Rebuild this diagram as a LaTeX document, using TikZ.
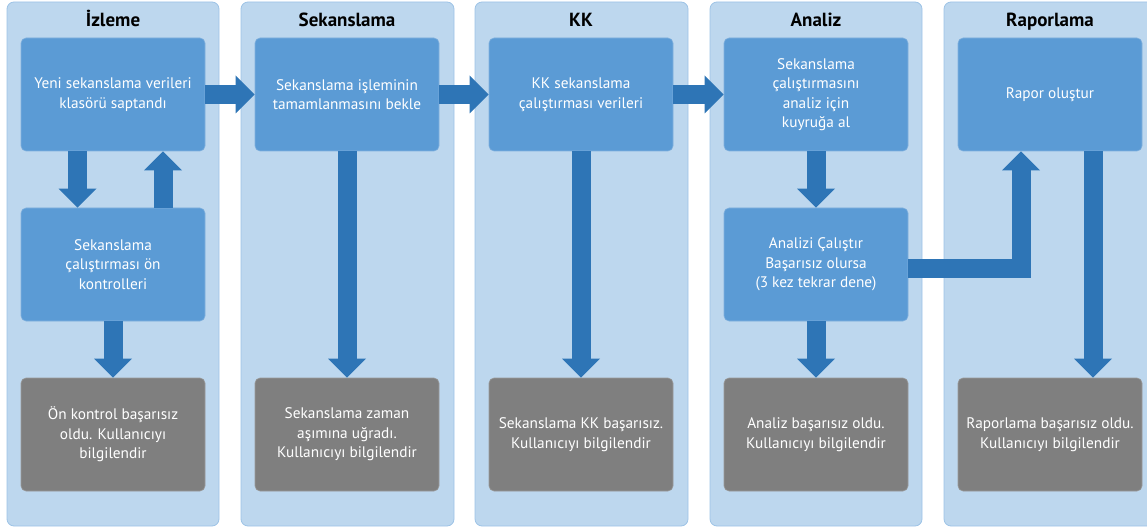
\documentclass[tikz,border=0pt]{standalone}
\usepackage{fontspec}
\setmainfont{PT Sans}
\usetikzlibrary{arrows.meta}
\definecolor{lanebg}{HTML}{BDD7EE}
\definecolor{laneline}{HTML}{9DC3E6}
\definecolor{boxblue}{HTML}{5B9BD5}
\definecolor{boxline}{HTML}{80B0DE}
\definecolor{arrowblue}{HTML}{2E75B6}
\definecolor{failgray}{HTML}{7F7F7F}
\definecolor{failline}{HTML}{9A9A9A}
\begin{document}
\begin{tikzpicture}[x=1pt,y=-1pt,
    lane/.style={fill=lanebg,draw=laneline,line width=0.8pt,rounded corners=7pt},
    head/.style={anchor=base,font=\bfseries\fontsize{19}{22}\selectfont},
    stepbox/.style={draw=boxline,fill=boxblue,line width=0.6pt,rounded corners=5pt,
        minimum width=184pt,minimum height=113pt,inner sep=0pt,align=center,
        text=white,font=\fontsize{15.3}{19.5}\selectfont},
    failbox/.style={stepbox,fill=failgray,draw=failline},
    bigarrow/.style={draw=arrowblue,line width=19pt,
        -{Triangle[length=19pt,width=38pt,line width=0pt]}}]
    \useasboundingbox (0,0) rectangle (1147,529);
    \draw[lane] (7,2) rectangle (219,526);
    \draw[lane] (241,2) rectangle (454,526);
    \draw[lane] (475,2) rectangle (688,526);
    \draw[lane] (710,2) rectangle (922,526);
    \draw[lane] (944,2) rectangle (1158,526);
    \node[head] at (113,27) {İzleme};
    \node[head] at (347,27) {Sekanslama};
    \node[head] at (581,27) {KK};
    \node[head] at (816,27) {Analiz};
    \node[head] at (1050,27) {Raporlama};
    \node[stepbox] (izl1) at (113,94.5) {Yeni sekanslama verileri\\klasörü saptandı};
    \node[stepbox] (izl2) at (113,264.5) {Sekanslama\\çalıştırması ön\\kontrolleri};
    \node[failbox] (izl3) at (113,434.5) {Ön kontrol başarısız\\oldu. Kullanıcıyı\\bilgilendir};
    \node[stepbox] (sek1) at (347,94.5) {Sekanslama işleminin\\tamamlanmasını bekle};
    \node[failbox] (sek3) at (347,434.5) {Sekanslama zaman\\aşımına uğradı.\\Kullanıcıyı bilgilendir};
    \node[stepbox] (kk1) at (581,94.5) {KK sekanslama\\çalıştırması verileri};
    \node[failbox] (kk3) at (581,434.5) {Sekanslama KK başarısız.\\Kullanıcıyı bilgilendir};
    \node[stepbox] (ana1) at (816,94.5) {Sekanslama\\çalıştırmasını\\analiz için\\kuyruğa al};
    \node[stepbox] (ana2) at (816,264.5) {Analizi Çalıştır\\Başarısız olursa\\(3 kez tekrar dene)};
    \node[failbox] (ana3) at (816,434.5) {Analiz başarısız oldu.\\Kullanıcıyı bilgilendir};
    \node[stepbox] (rap1) at (1050,94.5) {Rapor oluştur};
    \node[failbox] (rap3) at (1050,434.5) {Raporlama başarısız oldu.\\Kullanıcıyı bilgilendir};
    \draw[bigarrow] (izl1.east) -- (sek1.west);
    \draw[bigarrow] (sek1.east) -- (kk1.west);
    \draw[bigarrow] (kk1.east) -- (ana1.west);
    \draw[bigarrow] ([xshift=-35.5pt]izl1.south) -- ([xshift=-35.5pt]izl2.north);
    \draw[bigarrow] ([xshift=50pt]izl2.north) -- ([xshift=50pt]izl1.south);
    \draw[bigarrow] (izl2.south) -- (izl3.north);
    \draw[bigarrow] (sek1.south) -- (sek3.north);
    \draw[bigarrow] (kk1.south) -- (kk3.north);
    \draw[bigarrow] (ana1.south) -- (ana2.north);
    \draw[bigarrow] (ana2.south) -- (ana3.north);
    \draw[bigarrow] ([yshift=-3.5pt]ana2.east) -| ([xshift=-29pt]rap1.south);
    \draw[bigarrow] ([xshift=43pt]rap1.south) -- ([xshift=43pt]rap3.north);
\end{tikzpicture}
\end{document}
